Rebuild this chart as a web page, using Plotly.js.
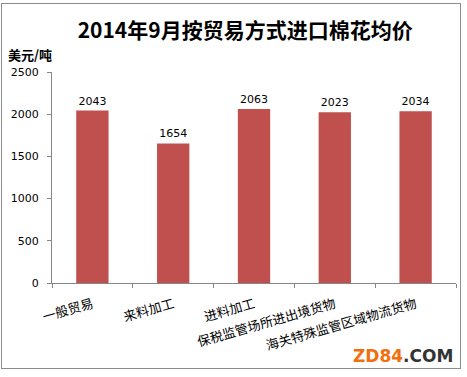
<!DOCTYPE html>
<html><head><meta charset="utf-8">
<script src="https://cdn.plot.ly/plotly-3.0.1.min.js"></script>
<style>
body{margin:0;padding:0;background:#fff;}
#wrap{position:relative;width:467px;height:377px;}
#chart{position:absolute;left:0;top:0;width:467px;height:377px;}
#frame{position:absolute;left:1px;top:3px;width:458px;height:364px;border:1px solid #8c8c8c;pointer-events:none;}
</style></head>
<body>
<div id="wrap"><div id="chart"></div><div id="frame"></div></div>
<script>
const categories = ['一般贸易','来料加工','进料加工','保税监管场所进出境货物','海关特殊监管区域物流货物'];
const prices = [2043, 1654, 2063, 2023, 2034];
const yTicks = [0, 500, 1000, 1500, 2000, 2500];

const trace = {
  type: 'bar',
  x: categories,
  y: prices,
  text: prices.map(String),
  textposition: 'outside',
  cliponaxis: false,
  textfont: {family: 'DejaVu Sans, Noto Sans CJK SC', size: 11, color: '#000'},
  marker: {color: '#C0504D'},
  width: 0.4,
  hoverinfo: 'none'
};

const layout = {
  width: 467, height: 377,
  margin: {l: 52, r: 11, t: 72, b: 94},
  paper_bgcolor: '#fff', plot_bgcolor: '#fff',
  showlegend: false,
  title: {text: '<b>2014年9月按贸易方式进口棉花均价</b>',
          font: {family: 'Noto Sans CJK SC', size: 21, color: '#000'},
          x: 0.525, xanchor: 'center', y: 0.92, yanchor: 'middle'},
  xaxis: {type: 'category', showline: true, linecolor: '#868686', linewidth: 1,
          ticks: 'outside', tickson: 'boundaries', ticklen: 4, tickcolor: '#868686',
          tickangle: -16, showgrid: false, zeroline: false, ticklabelstandoff: 8,
          tickfont: {family: 'Noto Sans CJK SC', size: 13, color: '#000'}},
  yaxis: {range: [0, 2500], tickvals: yTicks, ticktext: yTicks.map(String),
          showline: true, linecolor: '#868686', linewidth: 1,
          ticks: 'outside', ticklen: 4, tickcolor: '#868686',
          showgrid: false, zeroline: false, ticklabelstandoff: 6,
          tickfont: {family: 'DejaVu Sans', size: 11, color: '#000'}},
  annotations: [
    {text: '<b>美元/吨</b>', xref: 'paper', yref: 'paper', x: -0.114, y: 1.085,
     xanchor: 'left', yanchor: 'middle', showarrow: false,
     font: {family: 'Noto Sans CJK SC', size: 13, color: '#000'}},
    {text: '<b><span style="color:#F26F0F">ZD84</span><span style="color:#333">.COM</span></b>',
     xref: 'paper', yref: 'paper', x: 0.997, y: -0.345, xanchor: 'right', yanchor: 'middle',
     showarrow: false, font: {family: 'DejaVu Sans', size: 17, color: '#333'}}
  ]
};

Plotly.newPlot('chart', [trace], layout, {displayModeBar: false, staticPlot: true});
</script>
</body></html>
